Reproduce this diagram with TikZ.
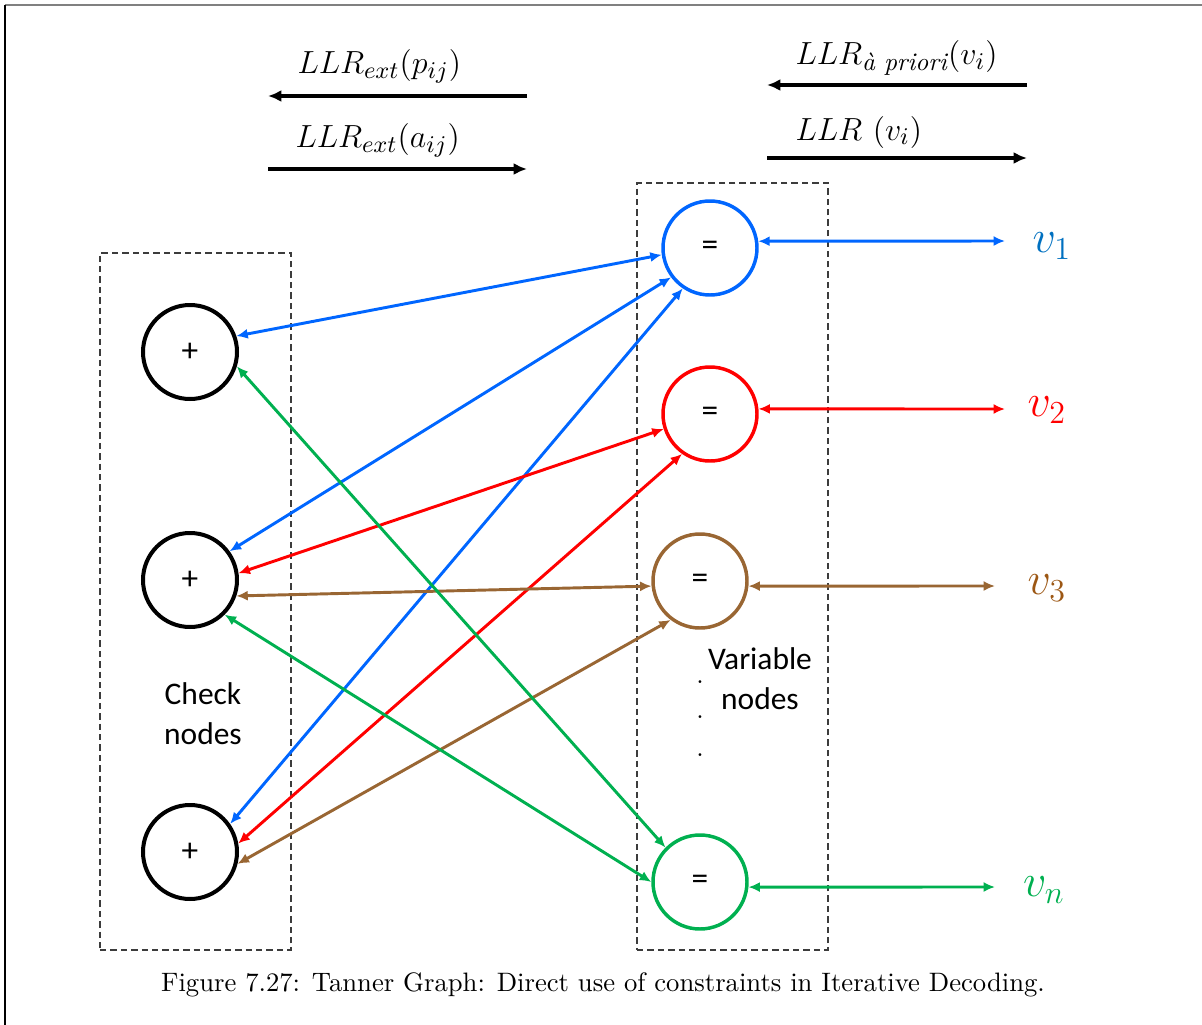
\documentclass[tikz,border=0pt]{standalone}
\usepackage{fontspec}
\newfontfamily\carlito{Carlito}
\usetikzlibrary{arrows.meta}
\definecolor{cblue}{RGB}{0,102,255}
\definecolor{cbluelab}{RGB}{0,112,192}
\definecolor{cred}{RGB}{255,0,0}
\definecolor{cbrown}{RGB}{153,102,51}
\definecolor{cbrownlab}{RGB}{156,87,20}
\definecolor{cgreen}{RGB}{0,176,80}
\definecolor{boxgray}{RGB}{60,60,60}
\begin{document}
\begin{tikzpicture}[x=0.375pt,y=-0.375pt,
  chk/.style={circle,draw=black,line width=1.5pt,minimum size=35.25pt,inner sep=0pt,font=\carlito\fontsize{12.5}{14}\selectfont},
  var/.style={circle,line width=1.3pt,minimum size=35.25pt,inner sep=0pt,font=\carlito\fontsize{12.5}{14}\selectfont},
  edge/.style={line width=1.1pt,{Latex[length=4.3pt,width=3.8pt]}-{Latex[length=4.3pt,width=3.8pt]}},
  topar/.style={line width=1.5pt,-{Latex[length=5pt,width=4.5pt]}},
  grp/.style={draw=boxgray,line width=0.5pt,dash pattern=on 2.4pt off 1.5pt},
  lab/.style={font=\carlito\fontsize{11.8}{14}\selectfont,align=center},
  mlab/.style={font=\fontsize{12.2}{14}\selectfont,anchor=west,inner sep=0pt},
  vlab/.style={font=\fontsize{17}{19}\selectfont,inner sep=0pt}]
\useasboundingbox (0,0) rectangle (1202,1025);
% frame
\draw[gray,line width=0.8pt] (5,5) -- (1202,5);
\draw[black,line width=0.6pt] (5,5) -- (5,1025);
% group boxes
\node[grp,minimum width=71.6pt,minimum height=261.4pt,inner sep=0pt] (cbox) at (195.5,601.5) {};
\node[grp,minimum width=71.6pt,minimum height=287.6pt,inner sep=0pt] (vbox) at (732.5,566.5) {};
% check nodes
\node[chk] (c1) at (190,352) {+};
\node[chk] (c2) at (190,580) {+};
\node[chk] (c3) at (190,852) {+};
% variable nodes
\node[var,draw=cblue] (v1) at (710,248) {=};
\node[var,draw=cred] (v2) at (710,414) {=};
\node[var,draw=cbrown] (v3) at (700,581) {=};
\node[var,draw=cgreen] (vn) at (700,882) {=};
% labels
\node[lab] (cl) at (203,714) {Check\\[1pt]nodes};
\node[lab] (vl) at (760,679) {Variable\\[1pt]nodes};
\node[inner sep=0pt,font=\fontsize{10}{10}\selectfont] (d1) at (700,682) {.};
\node[inner sep=0pt,font=\fontsize{10}{10}\selectfont] (d2) at (700,717) {.};
\node[inner sep=0pt,font=\fontsize{10}{10}\selectfont] (d3) at (700,755) {.};
% outputs
\coordinate (o1) at (1005,241);
\coordinate (o2) at (1005,409);
\coordinate (o3) at (995,586);
\coordinate (on) at (995,887);
\draw[edge,cblue] (v1.8) -- (o1);
\draw[edge,cred] (v2.6) -- (o2);
\draw[edge,cbrown] (v3.-6) -- (o3);
\draw[edge,cgreen] (vn.-6) -- (on);
\node[vlab,text=cbluelab] (l1) at (1052,246) {$v_1$};
\node[vlab,text=cred] (l2) at (1047,410) {$v_2$};
\node[vlab,text=cbrownlab] (l3) at (1047,588) {$v_3$};
\node[vlab,text=cgreen] (ln) at (1044,890) {$v_n$};
% edges
\draw[edge,cblue] (c1.19) -- (v1.188);
\draw[edge,cblue] (c2.36) -- (v1.217.6);
\draw[edge,cblue] (c3.35) -- (v1.236.7);
\draw[edge,cred] (c2.8) -- (v2.198);
\draw[edge,cred] (c3.10.6) -- (v2.235.6);
\draw[edge,cbrown] (c2.-19) -- (v3.186);
\draw[edge,cbrown] (c3.-14.6) -- (v3.233);
\draw[edge,cgreen] (c1.-17) -- (vn.135);
\draw[edge,cgreen] (c2.-45) -- (vn.180);
% top legend
\coordinate (a1s) at (527,96); \coordinate (a1e) at (268,96);
\coordinate (a2s) at (268,169); \coordinate (a2e) at (527,169);
\coordinate (a3s) at (1027,85); \coordinate (a3e) at (767,85);
\coordinate (a4s) at (767,158); \coordinate (a4e) at (1027,158);
\draw[topar] (a1s) -- (a1e);
\draw[topar] (a2s) -- (a2e);
\draw[topar] (a3s) -- (a3e);
\draw[topar] (a4s) -- (a4e);
\node[mlab] (t1) at (297,66) {$LLR_{ext}(p_{ij})$};
\node[mlab] (t2) at (295,140) {$LLR_{ext}(a_{ij})$};
\node[mlab] (t3) at (795,58) {$LLR_{\hbox{\fontsize{9.5}{10}\selectfont\itshape à priori}}(v_i)$};
\node[mlab] (t4) at (795,132) {$LLR\ (v_i)$};
% caption
\node[font=\fontsize{10}{12}\selectfont] (cap) at (603,985) {Figure 7.27: Tanner Graph: Direct use of constraints in Iterative Decoding.};
\end{tikzpicture}
\end{document}
